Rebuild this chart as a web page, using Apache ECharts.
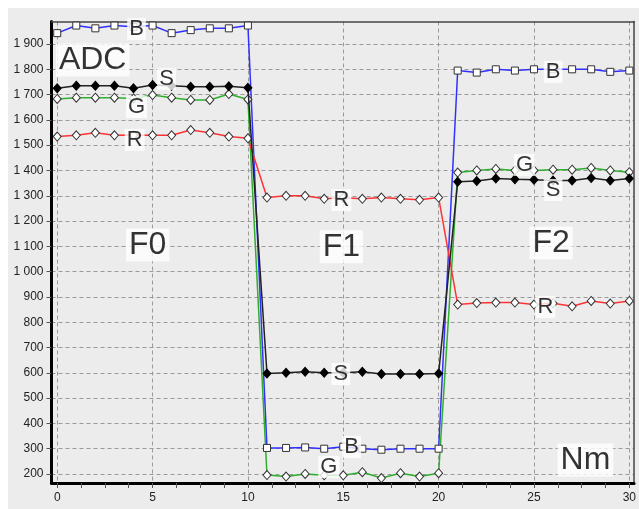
<!DOCTYPE html>
<html><head><meta charset="utf-8">
<script src="https://cdn.jsdelivr.net/npm/echarts@6/dist/echarts.min.js"></script>
<style>html,body{margin:0;padding:0;background:#fff}#c{width:639px;height:509px}</style>
</head><body><div id="c"></div>
<script>
const xValues = [0,1,2,3,4,5,6,7,8,9,10,11,12,13,14,15,16,17,18,19,20,21,22,23,24,25,26,27,28,29,30];
const seriesB = [1943,1973,1962,1973,1968,1973,1943,1955,1962,1962,1973, 303,303,305,300,308,300,296,300,300,300, 1795,1787,1800,1795,1800,1800,1800,1800,1790,1795];
const seriesS = [1725,1735,1735,1735,1725,1738,1735,1731,1731,1733,1727, 597,600,604,600,600,604,595,595,595,597, 1355,1358,1368,1365,1363,1360,1360,1370,1360,1368];
const seriesG = [1683,1688,1688,1688,1685,1698,1688,1679,1679,1702,1681, 196,190,200,195,195,207,184,203,190,203, 1392,1400,1406,1400,1400,1403,1403,1410,1400,1393];
const seriesR = [1534,1539,1549,1539,1540,1539,1539,1560,1549,1534,1527, 1293,1300,1300,1288,1292,1288,1293,1288,1284,1293, 870,876,878,878,870,875,863,884,874,884];

const xTickLabels = [0,5,10,15,20,25,30];
const xMinorTicks = [0,1.25,2.5,3.75,5,6.25,7.5,8.75,10,11.25,12.5,13.75,15,16.25,17.5,18.75,20,21.25,22.5,23.75,25,26.25,27.5,28.75,30];
const yTickLabels = [200,300,400,500,600,700,800,900,1000,1100,1200,1300,1400,1500,1600,1700,1800,1900];

// series tag labels (data coordinates)
const tagText = ['B','S','G','R','R','S','B','G','B','G','S','R'];
const tagX    = [4.16,5.73,4.16,4.06,14.9,14.87,15.44,14.24,26.0,24.5,26.0,25.6];
const tagY    = [1959,1762,1651,1521,1283,595,307,228,1790,1422,1323,860];
// region / axis titles
const titleText = ['ADC','F0','F1','F2','Nm'];
const titleX    = [1.86,4.74,14.9,25.9,27.7];
const titleY    = [1837,1105,1098,1113,255];

const X_MIN = -0.30, X_MAX = 30.25, Y_MIN = 164.4, Y_MAX = 1989;

function fmtY(v){
  v = Math.round(v);
  if (v >= 1000) return Math.floor(v/1000) + ' ' + String(v % 1000).padStart(3,'0');
  return String(v);
}
const pairs = arr => xValues.map((x,i)=>[x, arr[i]]);
const FONT = '"Liberation Sans", Arial, sans-serif';

const chart = echarts.init(document.getElementById('c'), null, {renderer:'canvas'});
chart.setOption({
  animation: false,
  backgroundColor: '#ececec',
  graphic: [
    {type:'rect', left:0, top:0, shape:{width:639, height:8}, style:{fill:'#ffffff'}, silent:true},
    {type:'rect', left:0, top:0, shape:{width:8, height:509}, style:{fill:'#ffffff'}, silent:true}
  ],
  grid: {left:51.5, right:2.5, top:21.5, bottom:26, containLabel:false},
  xAxis: [
    {
      type:'value', min:X_MIN, max:X_MAX, position:'bottom',
      axisLine:{show:true, onZero:false, lineStyle:{color:'#000', width:3}},
      axisTick:{show:true, length:5, customValues:xTickLabels, lineStyle:{color:'#555', width:1}},
      axisLabel:{customValues:xTickLabels, color:'#222', fontSize:12, fontFamily:FONT, margin:9},
      splitLine:{show:true, lineStyle:{color:'#9a9a9a', width:1, type:[4,3]}}
    },
    {
      type:'value', min:X_MIN, max:X_MAX, position:'bottom',
      axisLine:{show:true, onZero:false, lineStyle:{color:'rgba(0,0,0,0)', width:1}},
      axisTick:{show:true, length:5, customValues:xMinorTicks, lineStyle:{color:'#555', width:1}},
      axisLabel:{show:false},
      splitLine:{show:false}
    },
    {
      type:'value', min:X_MIN, max:X_MAX, position:'top',
      axisLine:{show:true, onZero:false, lineStyle:{color:'#444', width:1.5}},
      axisTick:{show:false}, axisLabel:{show:false}, splitLine:{show:false}
    }
  ],
  yAxis: [
    {
      type:'value', min:Y_MIN, max:Y_MAX, position:'left',
      axisLine:{show:true, onZero:false, lineStyle:{color:'#000', width:3}},
      axisTick:{show:true, length:5, customValues:yTickLabels, lineStyle:{color:'#555', width:1}},
      axisLabel:{customValues:yTickLabels, formatter:fmtY, color:'#222', fontSize:12, fontFamily:FONT, margin:8},
      splitLine:{show:true, lineStyle:{color:'#9a9a9a', width:1, type:[4,3]}}
    },
    {
      type:'value', min:Y_MIN, max:Y_MAX, position:'right',
      axisLine:{show:true, onZero:false, lineStyle:{color:'#444', width:1.5}},
      axisTick:{show:false}, axisLabel:{show:false}, splitLine:{show:false}
    }
  ],
  series: [
    {
      name:'B', type:'line', data:pairs(seriesB), symbol:'rect', symbolSize:7, showAllSymbol:true,
      lineStyle:{color:'#3030ff', width:1.5},
      itemStyle:{color:'#ffffff', borderColor:'#333', borderWidth:1}, z:3
    },
    {
      name:'G', type:'line', data:pairs(seriesG), symbol:'diamond', symbolSize:[8,9], showAllSymbol:true,
      lineStyle:{color:'#2eaf2e', width:1.5},
      itemStyle:{color:'#ffffff', borderColor:'#333', borderWidth:1}, z:3
    },
    {
      name:'R', type:'line', data:pairs(seriesR), symbol:'diamond', symbolSize:[8,9], showAllSymbol:true,
      lineStyle:{color:'#ff3333', width:1.5},
      itemStyle:{color:'#ffffff', borderColor:'#333', borderWidth:1}, z:3
    },
    {
      name:'S', type:'line', data:pairs(seriesS), symbol:'diamond', symbolSize:[8,9], showAllSymbol:true,
      lineStyle:{color:'#222', width:1.5},
      itemStyle:{color:'#000', borderColor:'#000', borderWidth:1}, z:4
    },
    {
      name:'tags', type:'scatter', symbol:'circle', symbolSize:2, z:10, silent:true,
      data: tagText.map((t,i)=>({value:[tagX[i], tagY[i]], name:t})),
      itemStyle:{color:'rgba(255,255,255,0)'},
      label:{show:true, position:'inside', formatter:p=>p.name, color:'#000', fontSize:22, fontFamily:FONT,
             backgroundColor:'#ffffff', padding:[0,2,0,2], lineHeight:22}
    },
    {
      name:'titles', type:'scatter', symbol:'circle', symbolSize:2, z:10, silent:true,
      data: titleText.map((t,i)=>({value:[titleX[i], titleY[i]], name:t})),
      itemStyle:{color:'rgba(255,255,255,0)'},
      label:{show:true, position:'inside', formatter:p=>p.name, color:'#000', fontSize:32, fontFamily:FONT,
             backgroundColor:'#ffffff', padding:[1,3,0,3], lineHeight:32}
    }
  ]
});
</script>
</body></html>
